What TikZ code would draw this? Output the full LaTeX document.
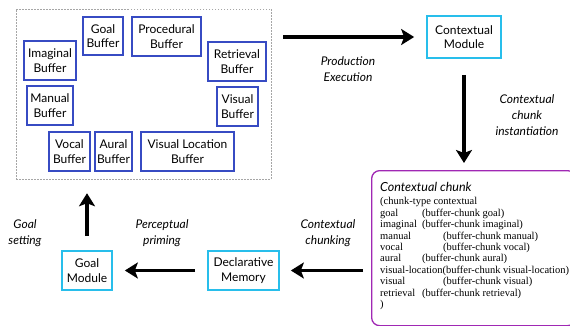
\documentclass[tikz,border=0pt]{standalone}
\usepackage{fontspec}
\setmainfont{Lato}
\newfontfamily\chunkfont{Liberation Serif}
\usetikzlibrary{arrows.meta}
\definecolor{bufblue}{RGB}{55,75,195}
\definecolor{modcyan}{RGB}{40,190,235}
\definecolor{chunkpurple}{RGB}{160,40,180}
\tikzset{
  buf/.style={draw=bufblue, line width=1.2pt, align=center, inner sep=0pt,
    font=\fontsize{12}{14.5}\selectfont},
  modbox/.style={draw=modcyan, line width=1.7pt, align=center, inner sep=0pt,
    font=\fontsize{12}{14.5}\selectfont},
  bigarrow/.style={line width=3.5pt, -{Stealth[length=13pt, width=16pt, inset=3pt]}},
  lbl/.style={align=center, font=\itshape\fontsize{12}{16}\selectfont, inner sep=0pt}
}
\begin{document}
\begin{tikzpicture}[x=1pt, y=-1pt]
\clip (0,0) rectangle (570,326);
\fill[white] (0,0) rectangle (570,326);
% dashed container
\node[draw=gray!70, line width=0.5pt, dash pattern=on 1.5pt off 1.5pt,
  minimum width=255pt, minimum height=170pt, inner sep=0pt] (buffers) at (143.5,94) {};
% buffers
\node[buf, minimum width=40pt, minimum height=38pt] (goalb) at (103,36) {Goal\\Buffer};
\node[buf, minimum width=69pt, minimum height=39pt] (procb) at (166.5,36.5) {Procedural\\Buffer};
\node[buf, minimum width=52pt, minimum height=39pt] (imagb) at (50,60.5) {Imaginal\\Buffer};
\node[buf, minimum width=58pt, minimum height=39pt] (retrb) at (237,61.5) {Retrieval\\Buffer};
\node[buf, minimum width=46pt, minimum height=39pt] (manb) at (50,105.5) {Manual\\Buffer};
\node[buf, minimum width=41pt, minimum height=39pt] (visb) at (237.5,106.5) {Visual\\Buffer};
\node[buf, minimum width=41pt, minimum height=39pt] (vocb) at (69.5,151.5) {Vocal\\Buffer};
\node[buf, minimum width=37pt, minimum height=39pt] (aurb) at (113.5,151.5) {Aural\\Buffer};
\node[buf, minimum width=93pt, minimum height=39pt] (vlocb) at (187.5,151.5) {Visual Location\\Buffer};
% modules
\node[modbox, minimum width=74pt, minimum height=42pt] (cm) at (464,37) {Contextual\\Module};
\node[modbox, minimum width=50pt, minimum height=39pt] (gm) at (87,270.5) {Goal\\Module};
\node[modbox, minimum width=71pt, minimum height=39pt] (dm) at (243.5,270.5) {Declarative\\Memory};
% chunk box
\node[draw=chunkpurple, line width=1.3pt, rounded corners=8pt,
  minimum width=204pt, minimum height=155pt, inner sep=0pt, anchor=north west] (chunk) at (371,170) {};
\node[anchor=west, inner sep=0pt, font=\itshape\fontsize{12.5}{14}\selectfont] (ctitle) at (380,187) {Contextual chunk};
\node[anchor=north west, inner sep=0pt, align=left, font=\chunkfont\fontsize{10.5}{11.4}\selectfont] (ctext) at (380,197.5) {%
(chunk-type contextual\\
\makebox[42pt][l]{goal}(buffer-chunk goal)\\
\makebox[42pt][l]{imaginal}(buffer-chunk imaginal)\\
\makebox[63pt][l]{manual}(buffer-chunk manual)\\
\makebox[63pt][l]{vocal}(buffer-chunk vocal)\\
\makebox[42pt][l]{aural}(buffer-chunk aural)\\
visual-location(buffer-chunk visual-location)\\
\makebox[63pt][l]{visual}(buffer-chunk visual)\\
\makebox[42pt][l]{retrieval}(buffer-chunk retrieval)\\
)};
% arrows
\draw[bigarrow, shorten <=12pt, shorten >=12pt] (buffers.east |- cm.west) -- (cm.west);
\draw[bigarrow, shorten <=16pt, shorten >=7pt] (cm.south) -- (cm.south |- chunk.north);
\draw[bigarrow, shorten <=8pt, shorten >=11pt] (chunk.west |- dm.east) -- (dm.east);
\draw[bigarrow, shorten <=12pt, shorten >=12pt] (dm.west) -- (gm.east);
\draw[bigarrow, shorten <=14pt, shorten >=14pt] (gm.north) -- (gm.north |- buffers.south);
% labels
\node[lbl] (l1) at (348,69) {Production\\Execution};
\node[lbl] (l2) at (527,115) {Contextual\\chunk\\instantiation};
\node[lbl] (l3) at (25,233) {Goal\\setting};
\node[lbl] (l4) at (162,233) {Perceptual\\priming};
\node[lbl] (l5) at (328,233) {Contextual\\chunking};
\end{tikzpicture}
\end{document}
